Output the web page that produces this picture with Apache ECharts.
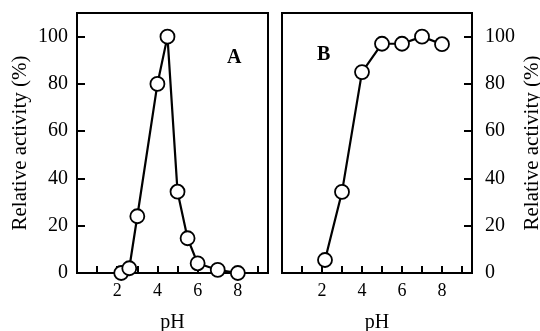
<!DOCTYPE html>
<html><head><meta charset="utf-8">
<script src="https://cdn.jsdelivr.net/npm/echarts@6/dist/echarts.min.js"></script>
<style>html,body{margin:0;padding:0;background:#fff}#c{width:540px;height:331px}</style>
</head><body><div id="c"></div>
<script>
const phA = [2.2, 2.6, 3.0, 4.0, 4.5, 5.0, 5.5, 6.0, 7.0, 8.0];
const actA = [0, 2, 24, 80, 100, 34.4, 14.7, 4.1, 1.3, 0];
const phB = [2.15, 3.0, 4.0, 5.0, 6.0, 7.0, 8.0];
const actB = [5.5, 34.3, 85, 97, 97, 100, 96.8];
const xTickLabels = ['2', '4', '6', '8'];
const yTitle = 'Relative activity (%)';
const xTitle = 'pH';
const panelLetters = ['A', 'B'];

const font = '"Liberation Serif", "Times New Roman", serif';
const chart = echarts.init(document.getElementById('c'), null, {renderer: 'canvas'});
const mkX = (i) => ({
  type: 'value', gridIndex: i, min: 0, max: 9.5, interval: 1,
  name: xTitle, nameLocation: 'middle', nameGap: 40,
  nameTextStyle: {fontFamily: font, fontSize: 20, color: '#000'},
  axisLine: {show: true, onZero: false, lineStyle: {color: '#000', width: 2}},
  axisTick: {show: true, inside: true, length: 7, lineStyle: {color: '#000', width: 2}},
  axisLabel: {fontFamily: font, fontSize: 18, color: '#000', margin: 9, showMaxLabel: false,
    formatter: v => xTickLabels.includes(String(v)) ? String(v) : ''},
  splitLine: {show: false}
});
const mkY = (i, pos) => ({
  type: 'value', gridIndex: i, min: 0, max: 110, interval: 20, position: pos,
  name: yTitle, nameLocation: 'middle', nameRotate: 90, nameGap: pos === 'left' ? 46 : 50,
  nameTextStyle: {fontFamily: font, fontSize: 21, color: '#000'},
  axisLine: {show: true, onZero: false, lineStyle: {color: '#000', width: 2}},
  axisTick: {show: false},
  axisLabel: {fontFamily: font, fontSize: 20, color: '#000', margin: pos === 'left' ? 9 : 13, showMaxLabel: false},
  splitLine: {show: false}
});
// helper axes only to draw tick marks inside the frame
const mkYTicks = (i, pos) => ({
  type: 'value', gridIndex: i, min: 0, max: 110, interval: 20, position: pos, offset: -8,
  axisLine: {show: false, onZero: false},
  axisTick: {show: true, inside: false, length: 8, lineStyle: {color: '#000', width: 2}},
  axisLabel: {show: false},
  splitLine: {show: false}
});
const mkS = (i, xs, ys) => ({
  type: 'line', xAxisIndex: i, yAxisIndex: i,
  data: xs.map((x, k) => [x, ys[k]]),
  symbol: 'circle', symbolSize: 14, showSymbol: true,
  lineStyle: {color: '#000', width: 2.2},
  itemStyle: {color: '#fff', borderColor: '#000', borderWidth: 1.8},
  animation: false, z: 3
});
const gridBase = {top: 13, width: 191, height: 260, show: true, borderColor: '#000', borderWidth: 2,
  backgroundColor: 'transparent', containLabel: false, outerBoundsMode: 'none'};
chart.setOption({
  animation: false,
  grid: [
    Object.assign({left: 77}, gridBase),
    Object.assign({left: 282}, gridBase, {width: 190})
  ],
  xAxis: [mkX(0), mkX(1)],
  yAxis: [mkY(0, 'left'), mkY(1, 'right'), mkYTicks(0, 'left'), mkYTicks(1, 'right')],
  series: [mkS(0, phA, actA), mkS(1, phB, actB)],
  graphic: [
    {type: 'text', left: 227, top: 48, style: {text: panelLetters[0], font: 'bold 20px ' + font, fill: '#000'}},
    {type: 'text', left: 317, top: 45, style: {text: panelLetters[1], font: 'bold 20px ' + font, fill: '#000'}}
  ]
});
</script></body></html>
